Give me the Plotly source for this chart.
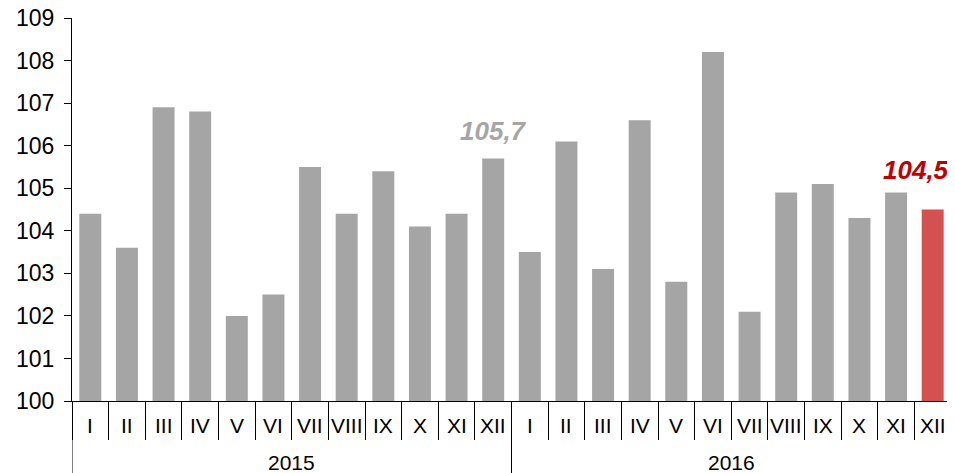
import plotly.graph_objects as go

months = ["I", "II", "III", "IV", "V", "VI", "VII", "VIII", "IX", "X", "XI", "XII"]
years = ["2015", "2016"]
values_2015 = [104.4, 103.6, 106.9, 106.8, 102.0, 102.5, 105.5, 104.4, 105.4, 104.1, 104.4, 105.7]
values_2016 = [103.5, 106.1, 103.1, 106.6, 102.8, 108.2, 102.1, 104.9, 105.1, 104.3, 104.9, 104.5]

values = values_2015 + values_2016
labels = months * len(years)
n = len(values)
xs = list(range(n))

grey = "#a5a5a5"
red = "#d55050"
colors = [grey] * (n - 1) + [red]

font_family = "Liberation Sans, Arial, sans-serif"

fig = go.Figure()
fig.add_trace(go.Bar(x=xs, y=values, marker=dict(color=colors, line=dict(width=0)),
                     width=0.6, showlegend=False))

# Boundary ticks between months
fig.update_xaxes(range=[-0.5, n - 0.5], tickmode="array",
                 tickvals=[i - 0.5 for i in range(n + 1)], ticks="outside",
                 ticklen=38, tickwidth=1, tickcolor="black", showticklabels=False,
                 showline=True, linecolor="black", linewidth=1, showgrid=False,
                 zeroline=False, automargin=False)
fig.update_yaxes(range=[100, 109], dtick=1, ticks="outside", ticklen=7,
                 tickcolor="black", showline=True, linecolor="black", linewidth=1,
                 showgrid=False, zeroline=False, ticklabeloverflow="allow",
                 automargin=False, ticklabelstandoff=5,
                 tickfont=dict(size=23, color="black", family=font_family))

plot_h = 383
anns = []
for i, lab in enumerate(labels):
    anns.append(dict(x=i, y=-24 / plot_h, xref="x", yref="paper", text=lab,
                     showarrow=False, yanchor="middle",
                     font=dict(size=21, color="black", family=font_family)))
for j, yr in enumerate(years):
    anns.append(dict(x=j * 12 + 5.5, y=-62 / plot_h, xref="x", yref="paper", text=yr,
                     showarrow=False, yanchor="middle",
                     font=dict(size=21, color="black", family=font_family)))

# Highlighted value labels
anns.append(dict(x=11, y=values_2015[-1], xref="x", yref="y", text="<b><i>105,7</i></b>",
                 showarrow=False, yanchor="bottom", yshift=10,
                 font=dict(size=26, color="#a6a6a6", family=font_family)))
anns.append(dict(x=n - 0.5, y=values_2016[-1], xref="x", yref="y", text="<b><i>104,5</i></b>",
                 showarrow=False, yanchor="bottom", xanchor="right", yshift=23,
                 font=dict(size=26, color="#c00000", family=font_family)))

# Year separators
shapes = []
for b in [-0.5 + 12 * k for k in range(len(years) + 1)]:
    shapes.append(dict(type="line", xref="x", yref="paper", x0=b, x1=b,
                       y0=0, y1=-80 / plot_h, line=dict(color="black", width=1)))

fig.update_layout(width=947, height=465, margin=dict(l=64, r=4, t=10, b=72),
                  plot_bgcolor="white", paper_bgcolor="white", bargap=0.4,
                  annotations=anns, shapes=shapes,
                  font=dict(family=font_family, color="black"))

fig.write_html("out.html")
